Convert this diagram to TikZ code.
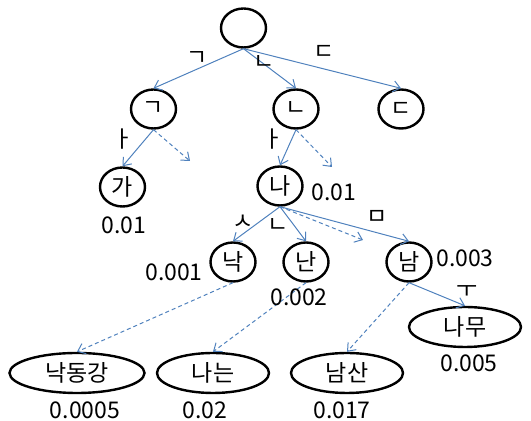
\documentclass[tikz,border=0pt]{standalone}
\usepackage{fontspec}
\setmainfont{Noto Sans CJK KR}
\usetikzlibrary{arrows.meta,shapes.geometric}
\definecolor{azul}{HTML}{4F81BD}
\definecolor{tinta}{HTML}{000000}
\tikzset{
 cir/.style={draw=tinta,ellipse,line width=1.2pt,minimum width=22.5pt,minimum height=19.5pt,inner sep=0pt},
 elip/.style={cir,minimum width=56pt,minimum height=20pt},
 arr/.style={azul,line width=0.5pt,-{Straight Barb[length=3.5pt,width=5.5pt]}},
 darr/.style={arr,dash pattern=on 2pt off 1.5pt},
 lbl/.style={inner sep=0pt,text=tinta},
}

\begin{document}
\begin{tikzpicture}[x=0.5pt,y=-0.5pt,font=\fontsize{11.5}{13}\selectfont]
\useasboundingbox (0,0) rectangle (531,421);

% nodos
\node[cir] (raiz) at (243.5,28) {};
\node[cir] (g) at (153.5,109) {ㄱ};
\node[cir] (n) at (296,109) {ㄴ};
\node[cir] (d) at (401,109) {ㄷ};
\node[cir] (ga) at (122.5,187) {가};
\node[cir] (na) at (280,186) {나};
\node[cir] (nak) at (233,262) {낙};
\node[cir] (nan) at (306,262) {난};
\node[cir] (nam) at (409,262) {남};
\node[elip] (namu) at (465,327) {나무};
\node[elip,minimum width=67.5pt] (nakdong) at (77,373) {낙동강};
\node[elip] (naneun) at (213,373) {나는};
\node[elip] (namsan) at (347,373) {남산};

% aristas
\draw[arr] (raiz.south) -- (g.north);
\draw[arr] (raiz.south) -- (n.north);
\draw[arr] (raiz.south) -- (d.north);
\draw[arr] (g.south) -- (ga.north);
\coordinate (gx) at (190,161);
\draw[darr] (g.south) -- (gx);
\draw[arr] (n.south) -- (na.north);
\coordinate (nx) at (332,167);
\draw[darr] (n.south) -- (nx);
\draw[arr] (na.south) -- (nak.north);
\draw[arr] (na.south) -- (nan.north);
\coordinate (nax) at (363,240);
\draw[darr] (na.south) -- (nax);
\draw[arr] (na.south) -- (nam.north);
\draw[darr] (nak.south) -- (nakdong.north);
\draw[darr] (nan.south) -- (naneun.north);
\draw[darr] (nam.south) -- (namsan.north);
\draw[arr] (nam.south) -- (namu.north);

% letras
\foreach \p/\t [count=\i] in {(197,59)/ㄱ,(264,63)/ㄴ,(324,52)/ㄷ,(123,139)/ㅏ,(273,139)/ㅏ,(243,222)/ㅅ,(278,226)/ㄴ,(377,217)/ㅁ,(467,292)/ㅜ}
  \node[lbl] (l\i) at \p {\t};

% probabilidades
\foreach \p/\t [count=\i] in {(124,225)/0.01,(334,192)/0.01,(174,272)/0.001,(299,297)/0.002,(465,258)/0.003,(469,363)/0.005,(85,410)/0.0005,(205,410)/0.02,(342,410)/0.017}
  \node[lbl] (p\i) at \p {\t};

\end{tikzpicture}
\end{document}
